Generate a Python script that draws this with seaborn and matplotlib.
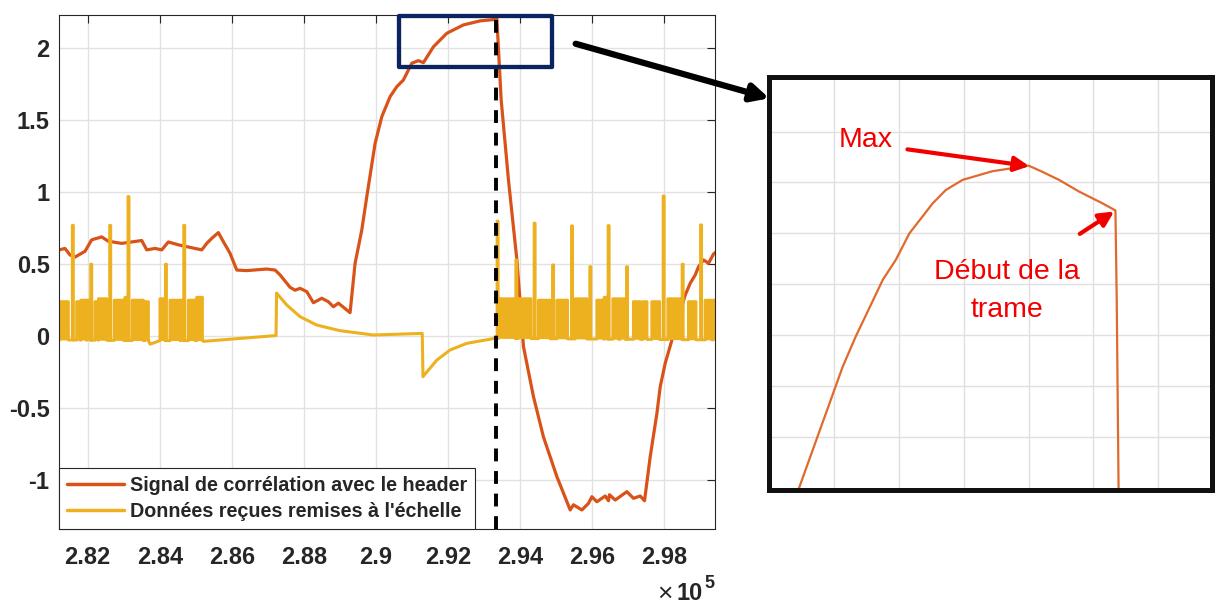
import numpy as np
import pandas as pd
import matplotlib
matplotlib.use('Agg')
import matplotlib.pyplot as plt
import seaborn as sns
from matplotlib.patches import Rectangle, FancyArrowPatch

sns.set_style('white')
plt.rcParams['font.family'] = ['Liberation Sans', 'DejaVu Sans']

# correlation signal with the header (orange)
corr_x = [281211, 281369, 281508, 281647, 281925, 282111, 282389, 282572, 282944, 283500,
          283639, 283870, 284055, 284239, 284517, 284794, 285167, 285306, 285444, 285628,
          285767, 285953, 286139, 286417, 286972, 287203, 287342, 287620, 287758, 287897,
          288083, 288267, 288500, 288683, 288822, 288961, 289286, 289425, 289611, 289750,
          289981, 290167, 290397, 290583, 290767, 291000, 291183, 291322, 291600, 291972,
          292433, 292897, 293314, 293362, 293481, 293684, 293918, 294101, 294379, 294657,
          295029, 295398, 295489, 295722, 295906, 296000, 296139, 296370, 296461, 296489,
          296647, 296972, 297156, 297342, 297462, 297620, 297806, 297898, 298037, 298223,
          298593, 298731, 298870, 298962, 299101, 299240, 299378, 299453]
corr_y = [0.60, 0.61, 0.565, 0.55, 0.59, 0.67, 0.69, 0.66, 0.645, 0.665,
          0.60, 0.61, 0.60, 0.655, 0.635, 0.62, 0.60, 0.645, 0.68, 0.72,
          0.657, 0.576, 0.46, 0.456, 0.467, 0.46, 0.426, 0.34, 0.32, 0.333,
          0.31, 0.233, 0.264, 0.24, 0.205, 0.23, 0.164, 0.507, 0.738, 0.97,
          1.34, 1.525, 1.664, 1.733, 1.78, 1.896, 1.914, 1.90, 2.01, 2.104,
          2.162, 2.19, 2.20, 2.205, 1.642, 1.085, 0.53, -0.072, -0.42, -0.70,
          -0.975, -1.206, -1.17, -1.206, -1.16, -1.114, -1.149, -1.109, -1.142, -1.10,
          -1.137, -1.079, -1.125, -1.109, -1.142, -0.836, -0.535, -0.35, -0.187, -0.026,
          0.287, 0.368, 0.426, 0.483, 0.53, 0.507, 0.571, 0.587]

# received data rescaled (yellow): drifting baseline + bit pulses
base_x = [281211, 283690, 283730, 284000, 285200, 285220, 287230, 287245, 287528, 287898,
          288361, 289006, 289934, 291290, 291310, 291695, 292064, 292528, 293314, 299453]
base_y = [-0.025, -0.03, -0.055, -0.03, -0.03, -0.035, 0.005, 0.30, 0.217, 0.136,
          0.078, 0.039, 0.009, 0.02, -0.28, -0.165, -0.095, -0.049, -0.014, -0.025]
pulse_start = [281230, 281575, 281694, 281810, 281975, 282085, 282203, 282300, 282612, 282739,
               283036, 283120, 283239, 283592, 284008, 284160, 284286, 284578, 284668, 284795,
               285028,
               293370, 293406, 293890, 293962, 294398, 294517, 294910, 295028, 295437, 295536,
               295945, 296139, 296342, 296453, 296584, 296786, 296964, 297156, 297417, 297667,
               297981, 298111, 298509, 298684, 299020, 299147, 299361]
pulse_end = [281461, 281600, 281786, 281960, 282064, 282110, 282290, 282528, 282637, 282989,
             283084, 283145, 283545, 283684, 284147, 284185, 284564, 284647, 284693, 284981,
             285184,
             293395, 293870, 293915, 294306, 294423, 294842, 294935, 295323, 295462, 295861,
             295970, 296323, 296417, 296478, 296739, 296925, 296989, 297342, 297528, 297878,
             298006, 298500, 298534, 298889, 299045, 299333, 299440]
pulse_height = [0.24, 0.77, 0.24, 0.25, 0.25, 0.50, 0.24, 0.26, 0.77, 0.25,
                0.27, 0.97, 0.25, 0.24, 0.26, 0.50, 0.25, 0.25, 0.77, 0.25,
                0.27,
                0.80, 0.26, 0.53, 0.26, 0.785, 0.25, 0.495, 0.25, 0.766, 0.26,
                0.483, 0.25, 0.27, 0.768, 0.26, 0.26, 0.483, 0.24, 0.24, 0.24,
                0.974, 0.26, 0.50, 0.24, 0.773, 0.25, 0.25]

frame_start = 293330
box_x = [290647, 294889]
box_y = [1.872, 2.224]

xticks = [282000, 284000, 286000, 288000, 290000, 292000, 294000, 296000, 298000]
xtick_labels = ['2.82', '2.84', '2.86', '2.88', '2.9', '2.92', '2.94', '2.96', '2.98']
yticks = [-1, -0.5, 0, 0.5, 1, 1.5, 2]
ytick_labels = ['-1', '-0.5', '0', '0.5', '1', '1.5', '2']

# zoomed view of the peak (arbitrary grid units)
zoom_x = [0.40, 1.13, 1.33, 1.75, 1.95, 2.16, 2.52, 2.72, 2.98, 3.44,
          3.85, 4.00, 4.21, 4.47, 4.78, 5.14, 5.34, 5.36, 5.39]
zoom_y = [-0.2, 2.38, 2.97, 4.09, 4.48, 5.00, 5.59, 5.85, 6.05, 6.22,
          6.30, 6.33, 6.21, 6.05, 5.82, 5.59, 5.45, 3.69, -0.2]

ORANGE = '#D95319'
YELLOW = '#EDB120'
GREY = '#262626'

# build yellow series vertices
pts = []
inside = lambda x: any(s <= x <= e for s, e in zip(pulse_start, pulse_end))
for bx, by in zip(base_x, base_y):
    if not inside(bx):
        pts.append((bx, 0, by))
for s, e, h in zip(pulse_start, pulse_end, pulse_height):
    bs = np.interp(s, base_x, base_y)
    be = np.interp(e, base_x, base_y)
    pts += [(s, 0, bs), (s, 1, h), (e, 2, h), (e, 3, be)]
pts.sort(key=lambda p: (p[0], p[1]))
df_data = pd.DataFrame({'x': [p[0] for p in pts], 'y': [p[2] for p in pts]})
df_corr = pd.DataFrame({'x': corr_x, 'y': corr_y})

fig = plt.figure(figsize=(12.15, 6.04), dpi=100)
ax = fig.add_axes([0.0488, 0.1242, 0.5397, 0.851])

sns.lineplot(data=df_corr, x='x', y='y', sort=False, estimator=None, color=ORANGE,
             lw=2.3, label='Signal de corrélation avec le header', ax=ax)
sns.lineplot(data=df_data, x='x', y='y', sort=False, estimator=None, color=YELLOW,
             lw=2.2, label="Données reçues remises à l'échelle", ax=ax)

# dense bit bursts look solid at this scale
for s, e, h in zip(pulse_start, pulse_end, pulse_height):
    if e - s > 60:
        ax.fill_between([s, e], np.interp([s, e], base_x, base_y), [h, h],
                        color=YELLOW, lw=0, zorder=2)

ax.set_xlim(281211, 299420)
ax.set_ylim(-1.338, 2.231)
ax.vlines(frame_start, -1.338, max(corr_y), colors='black', lw=2.8,
          linestyles=(0, (3.3, 2.5)), zorder=5)

ax.add_patch(Rectangle((box_x[0], box_y[0]), box_x[1] - box_x[0], box_y[1] - box_y[0],
                       fill=False, ec='#0b2460', lw=3.1, joinstyle='round',
                       clip_on=False, zorder=6))

ax.set_xticks(xticks)
ax.set_xticklabels(xtick_labels, fontweight='bold')
ax.set_yticks(yticks)
ax.set_yticklabels(ytick_labels, fontweight='bold')
ax.tick_params(direction='in', length=5.5, width=0.8, top=True, right=True,
               color=GREY, labelcolor=GREY, labelsize=17)
ax.tick_params(axis='x', pad=12)
ax.tick_params(axis='y', pad=7)
ax.set_xlabel('')
ax.set_ylabel('')
ax.grid(True, color='#e2e2e2', lw=1.0)
ax.set_axisbelow(True)
for sp in ax.spines.values():
    sp.set_color(GREY)
    sp.set_linewidth(0.8)

leg = ax.legend(loc='lower left', bbox_to_anchor=(0, 0), borderaxespad=0,
                prop={'weight': 'bold', 'size': 14.2}, handlelength=2.9, handletextpad=0.3,
                labelspacing=0.38, borderpad=0.4, fancybox=False, framealpha=1,
                edgecolor=GREY)
leg.get_frame().set_linewidth(0.8)
for line in leg.get_lines():
    line.set_linewidth(2.5)

# exponent label under the x axis
fig.text(673 / 1215, 1 - 594 / 604, '×', ha='right', va='center',
         fontsize=19, color=GREY)
fig.text(676 / 1215, 1 - 593 / 604, '10', ha='left', va='center',
         fontsize=17, fontweight='bold', color=GREY)
fig.text(704 / 1215, 1 - 584 / 604, '5', ha='left', va='center',
         fontsize=13, fontweight='bold', color=GREY)

# arrow towards the zoomed view
fig.add_artist(FancyArrowPatch(
    (573 / 1215, 1 - 43 / 604), (772 / 1215, 1 - 99 / 604), transform=fig.transFigure,
    arrowstyle='-|>', mutation_scale=26, lw=4.5, color='black'))

# zoomed inset
axi = fig.add_axes([0.6333, 0.1887, 0.3642, 0.6846])
sns.lineplot(x=zoom_x, y=zoom_y, sort=False, estimator=None, color='#E06A2B', lw=1.6, ax=axi)
axi.set_xlim(0, 6.83)
axi.set_ylim(-0.04, 8.08)
axi.set_xticks(range(1, 7))
axi.set_yticks(range(1, 8))
axi.tick_params(length=0, labelbottom=False, labelleft=False)
axi.grid(True, color='#e0e0e0', lw=1.0)
for sp in axi.spines.values():
    sp.set_color('#111111')
    sp.set_linewidth(3.6)

RED = '#f20000'
axi.annotate('', xy=(4.01, 6.32), xytext=(2.13, 6.65),
             arrowprops=dict(arrowstyle='-|>', color=RED, lw=3, mutation_scale=22,
                             shrinkA=0, shrinkB=0))
axi.annotate('', xy=(5.32, 5.43), xytext=(4.79, 4.99),
             arrowprops=dict(arrowstyle='-|>', color=RED, lw=3, mutation_scale=22,
                             shrinkA=0, shrinkB=0))
axi.text(1.49, 6.84, 'Max', color=RED, fontsize=20.5, ha='center', va='center')
axi.text(3.67, 4.25, 'Début de la', color=RED, fontsize=20.5, ha='center', va='center')
axi.text(3.67, 3.50, 'trame', color=RED, fontsize=20.5, ha='center', va='center')

fig.savefig('out.png', dpi=100)
